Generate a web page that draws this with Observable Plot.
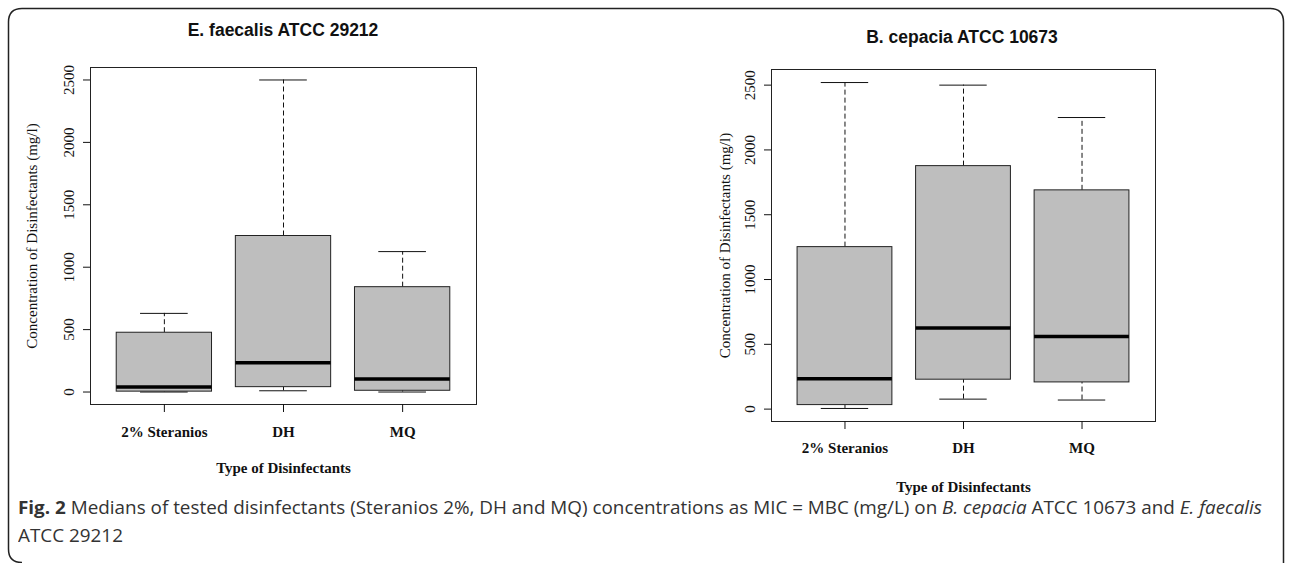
<!DOCTYPE html>
<html><head><meta charset="utf-8">
<script src="https://cdn.jsdelivr.net/npm/d3@7"></script>
<script src="https://cdn.jsdelivr.net/npm/@observablehq/plot@0.6"></script>
<style>
body{margin:0;background:#fff;width:1290px;height:563px;overflow:hidden;position:relative;}
.title{position:absolute;font:bold 17.5px "Liberation Sans",Arial,sans-serif;color:#111;transform:translateX(-50%);white-space:nowrap}
#caption{position:absolute;left:18px;top:493px;font-family:"Open Sans",sans-serif;font-size:18px;color:#333;line-height:28px;white-space:nowrap;transform-origin:0 0}
.panel{position:absolute;top:0}
#border{position:absolute;left:0;top:0}
</style></head><body>
<svg id="border" width="1290" height="563"><path d="M1283.5 563 L1283.5 22 Q1283.5 8.5 1270 8.5 L22 8.5 Q8.5 8.5 8.5 22 L8.5 549 Q8.5 562.5 22 562.5" fill="none" stroke="#222" stroke-width="1.5"/></svg>
<div id="left" class="panel" style="left:0"></div>
<div id="right" class="panel" style="left:680px"></div>
<div class="title" style="left:283px;top:20px">E. faecalis ATCC 29212</div>
<div class="title" style="left:962px;top:27px">B. cepacia ATCC 10673</div>
<div id="caption"><span id="line1"><b>Fig. 2</b> Medians of tested disinfectants (Steranios 2%, DH and MQ) concentrations as MIC = MBC (mg/L) on <i>B. cepacia</i> ATCC 10673 and <i>E. faecalis</i></span><br>ATCC 29212</div>
<script>
const categories = ["2% Steranios", "DH", "MQ"];
const yTicks = [0, 500, 1000, 1500, 2000, 2500];
const yLabel = "Concentration of Disinfectants (mg/l)";
const xLabel = "Type of Disinfectants";

// E. faecalis ATCC 29212
const faecalisMin    = [0, 10, 0];
const faecalisQ1     = [3, 39, 10];
const faecalisMedian = [40, 235, 105];
const faecalisQ3     = [475, 1250, 840];
const faecalisMax    = [630, 2500, 1125];

// B. cepacia ATCC 10673
const cepaciaMin    = [5, 77, 70];
const cepaciaQ1     = [31, 227, 206];
const cepaciaMedian = [235, 625, 560];
const cepaciaQ3     = [1250, 1875, 1688];
const cepaciaMax    = [2520, 2500, 2250];

function panel({min, q1, med, q3, max, width, height, margins, yLabelOffset, xLabelOffset, xTickPadding}) {
  const rows = categories.map((c, i) => ({i: i + 1, c, min: min[i], q1: q1[i], med: med[i], q3: q3[i], max: max[i]}));
  const lo = d3.min(min), hi = d3.max(max), ext = (hi - lo) * 0.04;
  const serif = "Liberation Serif, Times New Roman, serif";
  return Plot.plot({
    width, height, ...margins,
    style: {fontFamily: serif, fontSize: "15px", color: "#111", background: "transparent", overflow: "visible"},
    x: {domain: [0.5 - 0.12, 3.5 + 0.12]},
    y: {domain: [lo - ext, hi + ext]},
    marks: [
      Plot.ruleX(rows, {x: "i", y1: "q3", y2: "max", stroke: "#111", strokeDasharray: "5,3"}),
      Plot.ruleX(rows, {x: "i", y1: "min", y2: "q1", stroke: "#111", strokeDasharray: "5,3"}),
      Plot.ruleY(rows, {y: "max", x1: d => d.i - 0.2, x2: d => d.i + 0.2, stroke: "#111"}),
      Plot.ruleY(rows, {y: "min", x1: d => d.i - 0.2, x2: d => d.i + 0.2, stroke: "#111"}),
      Plot.rect(rows, {x1: d => d.i - 0.4, x2: d => d.i + 0.4, y1: "q1", y2: "q3", fill: "#bebebe", stroke: "#222"}),
      Plot.ruleY(rows, {y: "med", x1: d => d.i - 0.4, x2: d => d.i + 0.4, stroke: "#000", strokeWidth: 3.5}),
      Plot.frame({stroke: "#222"}),
      Plot.axisY({ticks: yTicks, tickFormat: d => String(d), tickSize: 7, tickPadding: 10, tickRotate: -90,
        fontSize: 15, label: yLabel, labelArrow: "none", labelAnchor: "center", labelOffset: yLabelOffset}),
      Plot.axisX({ticks: [1, 2, 3], tickFormat: d => categories[d - 1], tickSize: 8, tickPadding: xTickPadding,
        fontSize: 15, fontWeight: "bold", label: xLabel, labelArrow: "none", labelAnchor: "center", labelOffset: xLabelOffset})
    ]
  });
}

document.getElementById("left").append(panel({
  min: faecalisMin, q1: faecalisQ1, med: faecalisMedian, q3: faecalisQ3, max: faecalisMax,
  width: 500, height: 480,
  margins: {marginLeft: 90, marginRight: 24, marginTop: 67, marginBottom: 76},
  yLabelOffset: 64, xLabelOffset: 68, xTickPadding: 14
}));
document.getElementById("right").append(panel({
  min: cepaciaMin, q1: cepaciaQ1, med: cepaciaMedian, q3: cepaciaQ3, max: cepaciaMax,
  width: 500, height: 500,
  margins: {marginLeft: 91, marginRight: 25, marginTop: 69, marginBottom: 79},
  yLabelOffset: 52, xLabelOffset: 70, xTickPadding: 13
}));

// fit caption line 1 to reference width with a horizontal squeeze
const l1 = document.getElementById("line1");
const w = l1.getBoundingClientRect().width;
const cap = document.getElementById("caption");
cap.style.transform = "scaleX(" + (1244 / w).toFixed(4) + ")";
</script>
</body></html>
